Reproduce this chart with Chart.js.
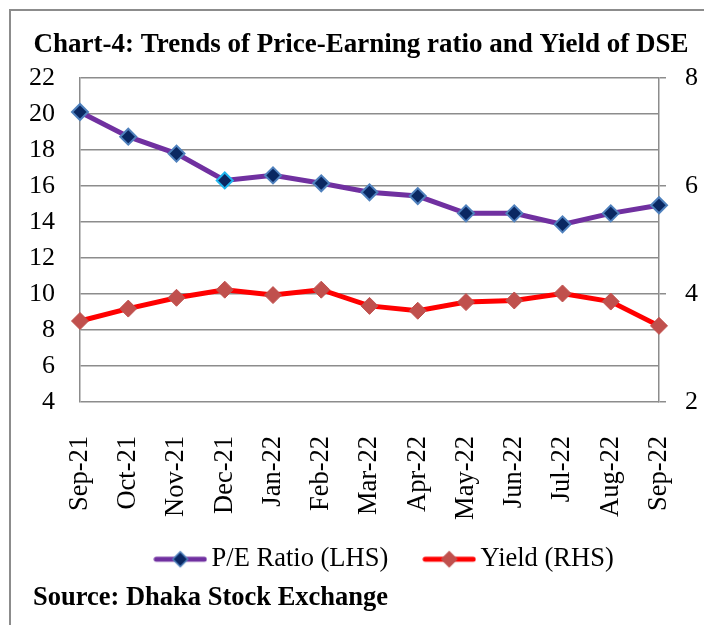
<!DOCTYPE html>
<html>
<head>
<meta charset="utf-8">
<script src="https://cdn.jsdelivr.net/npm/chart.js@4.4.0/dist/chart.umd.min.js"></script>
<style>
    html, body { margin: 0; padding: 0; background: #fff; }
    #wrap { position: relative; width: 704px; height: 625px; overflow: hidden; }
    #frame { position: absolute; left: 9px; top: 9px; width: 730px; height: 650px; border: 2px solid #8c8c8c; }
    #myChart { position: absolute; left: 0; top: 0; }
</style>
</head>
<body>
<div id="wrap">
    <div id="frame"></div>
    <canvas id="myChart" width="704" height="625"></canvas>
</div>
<script>
const months = ['Sep-21', 'Oct-21', 'Nov-21', 'Dec-21', 'Jan-22', 'Feb-22', 'Mar-22', 'Apr-22', 'May-22', 'Jun-22', 'Jul-22', 'Aug-22', 'Sep-22'];
const peRatio = [20.11, 18.74, 17.8, 16.31, 16.59, 16.15, 15.65, 15.44, 14.48, 14.48, 13.87, 14.48, 14.93];
const yieldRhs = [3.5, 3.73, 3.93, 4.08, 3.98, 4.08, 3.78, 3.69, 3.85, 3.88, 4.01, 3.86, 3.41];
const leftTicks = [4, 6, 8, 10, 12, 14, 16, 18, 20, 22];
const rightTicks = [2, 4, 6, 8];

const serif = "'Times New Roman', 'Liberation Serif', serif";
const gridGray = '#8c8c8c';

// small line + diamond picture used as the legend marker
function legendIcon(lineColor, fill, stroke) {
    const c = document.createElement('canvas');
    c.width = 54;
    c.height = 20;
    const g = c.getContext('2d');
    g.strokeStyle = lineColor;
    g.lineWidth = 5;
    g.lineCap = 'round';
    g.beginPath();
    g.moveTo(3, 10);
    g.lineTo(51, 10);
    g.stroke();
    g.beginPath();
    g.moveTo(27, 2.5);
    g.lineTo(34.5, 10);
    g.lineTo(27, 17.5);
    g.lineTo(19.5, 10);
    g.closePath();
    g.fillStyle = fill;
    g.fill();
    g.lineWidth = 1.5;
    g.strokeStyle = stroke;
    g.stroke();
    return c;
}

const textBits = {
    id: 'textBits',
    afterLayout(chart) {
        // nudge the legend to where the original sits
        const lg = chart.legend;
        lg.left += 36;
        lg.right += 36;
        lg.top -= 19;
        lg.bottom -= 19;
    },
    afterDraw(chart) {
        const ctx = chart.ctx;
        ctx.save();
        ctx.fillStyle = '#000';
        ctx.textBaseline = 'middle';
        ctx.textAlign = 'center';
        ctx.font = 'bold 27px ' + serif;
        ctx.fillText('Chart-4: Trends of Price-Earning ratio and Yield of DSE', 361, 45);
        ctx.textAlign = 'left';
        ctx.font = 'bold 26.5px ' + serif;
        ctx.fillText('Source: Dhaka Stock Exchange', 33, 598);
        ctx.restore();
    }
};

const icons = [
    legendIcon('#7030A0', '#0A2862', '#4F81BD'),
    legendIcon('#FF0000', '#C0504D', '#C0504D')
];

new Chart(document.getElementById('myChart').getContext('2d'), {
    type: 'line',
    data: {
        labels: months,
        datasets: [{
            label: 'P/E Ratio (LHS)',
            data: peRatio,
            yAxisID: 'y',
            borderColor: '#7030A0',
            borderWidth: 5,
            pointStyle: 'rectRot',
            pointRadius: 8,
            pointHoverRadius: 8,
            pointBackgroundColor: '#0A2862',
            pointBorderColor: months.map((m, i) => i === 3 ? '#1FB5EE' : '#4F81BD'),
            pointBorderWidth: 2,
            tension: 0
        }, {
            label: 'Yield (RHS)',
            data: yieldRhs,
            yAxisID: 'y1',
            borderColor: '#FF0000',
            borderWidth: 5,
            pointStyle: 'rectRot',
            pointRadius: 8.5,
            pointHoverRadius: 8.5,
            pointBackgroundColor: '#C0504D',
            pointBorderColor: '#C0504D',
            pointBorderWidth: 1,
            tension: 0
        }]
    },
    options: {
        responsive: false,
        animation: false,
        layout: { padding: { top: 78, left: 0, right: 0, bottom: 23.5 } },
        scales: {
            x: {
                offset: false,
                grid: { display: false },
                border: { display: false },
                ticks: {
                    autoSkip: false,
                    minRotation: 90,
                    maxRotation: 90,
                    padding: 26,
                    color: '#000',
                    font: { family: serif, size: 26.5 }
                },
                afterFit(scale) {
                    scale.height = 120;
                    // labels sit under the plot, no side room needed
                    scale.paddingLeft = 0;
                    scale.paddingRight = 0;
                }
            },
            y: {
                position: 'left',
                min: 4,
                max: 22,
                afterBuildTicks(scale) { scale.ticks = leftTicks.map(v => ({ value: v })); },
                grid: { color: gridGray, lineWidth: 1.5, drawTicks: false },
                border: { color: gridGray, width: 1.5 },
                ticks: { padding: 25, color: '#000', font: { family: serif, size: 26 } },
                afterFit(scale) { scale.width = 80; }
            },
            y1: {
                position: 'right',
                min: 2,
                max: 8,
                afterBuildTicks(scale) { scale.ticks = rightTicks.map(v => ({ value: v })); },
                grid: { drawOnChartArea: false, color: gridGray, lineWidth: 1.5, tickLength: 7 },
                border: { color: gridGray, width: 1.5 },
                ticks: { padding: 19, color: '#000', font: { family: serif, size: 26 } },
                afterFit(scale) { scale.width = 45; }
            }
        },
        plugins: {
            title: { display: false },
            tooltip: { enabled: false },
            legend: {
                position: 'bottom',
                labels: {
                    usePointStyle: true,
                    pointStyleWidth: 36,
                    padding: 43,
                    color: '#000',
                    font: { family: serif, size: 26.5 },
                    generateLabels(chart) {
                        return chart.data.datasets.map((ds, i) => ({
                            text: ds.label,
                            pointStyle: icons[i],
                            fillStyle: ds.borderColor,
                            strokeStyle: ds.borderColor,
                            lineWidth: 0,
                            hidden: false,
                            datasetIndex: i
                        }));
                    }
                }
            }
        }
    },
    plugins: [textBits]
});
</script>
</body>
</html>
